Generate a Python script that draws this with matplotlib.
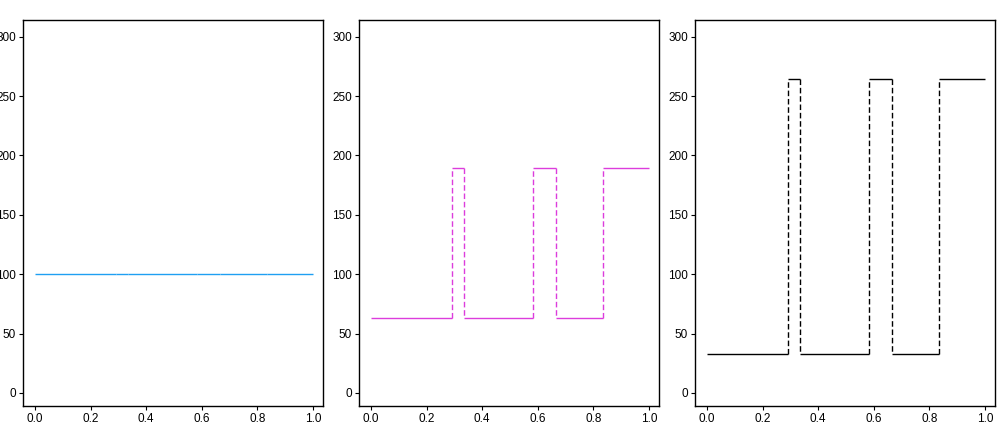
import numpy as np
import matplotlib.pyplot as plt

plt.rcParams['font.family'] = ['Liberation Sans', 'DejaVu Sans']

# step breakpoints shared by the panels
breaks = [0.0, 7 / 24, 1 / 3, 7 / 12, 2 / 3, 5 / 6, 1.0]
# level of each segment between breakpoints
levels_a = [100, 100, 100, 100, 100, 100]
levels_b = [63, 189, 63, 189, 63, 189]
levels_c = [33, 264, 33, 264, 33, 264]
colors = ["#1f9ff2", "#dc3ddc", "#000000"]

xticks = [0.0, 0.2, 0.4, 0.6, 0.8, 1.0]
yticks = [0, 50, 100, 150, 200, 250, 300]

fig = plt.figure(figsize=(10.08, 4.36), dpi=100)
lefts = [23, 359, 695]


def draw_steps(ax, levels, color):
    x = np.array(breaks)
    y = np.array(levels)
    ax.hlines(y, x[:-1], x[1:], colors=color, linewidth=1.0)
    jumps = np.nonzero(np.diff(y))[0]
    for i in jumps:
        ax.vlines(x[i + 1], y[i], y[i + 1], colors=color, linewidth=1.0,
                  linestyles=(0, (4, 2)))


for left, levels, color in zip(lefts, [levels_a, levels_b, levels_c], colors):
    ax = fig.add_axes([left / 1008, 30 / 436, 300 / 1008, 386 / 436])
    draw_steps(ax, levels, color)
    ax.set_xlim(-0.043, 1.036)
    ax.set_ylim(-11, 314)
    ax.set_xticks(xticks)
    ax.set_xticklabels(["%.1f" % t for t in xticks])
    ax.set_yticks(yticks)
    ax.tick_params(labelsize=8.5, length=3, width=0.8, pad=2, colors="black")
    for s in ax.spines.values():
        s.set_linewidth(1.0)

plt.savefig("out.png", dpi=100)
